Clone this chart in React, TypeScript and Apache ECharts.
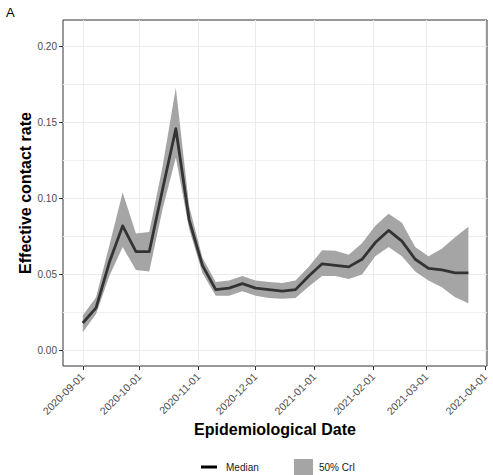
import React, { useEffect, useRef } from 'react';
import * as echarts from 'echarts';

// Weekly estimates of the effective contact rate
const dates = [
  '2020-09-01', '2020-09-08', '2020-09-15', '2020-09-22', '2020-09-29',
  '2020-10-06', '2020-10-13', '2020-10-20', '2020-10-27',
  '2020-11-03', '2020-11-10', '2020-11-17', '2020-11-24',
  '2020-12-01', '2020-12-08', '2020-12-15', '2020-12-22', '2020-12-29',
  '2021-01-05', '2021-01-12', '2021-01-19', '2021-01-26',
  '2021-02-02', '2021-02-09', '2021-02-16', '2021-02-23',
  '2021-03-02', '2021-03-09', '2021-03-16', '2021-03-23',
];

const median = [
  0.018, 0.028, 0.058, 0.082, 0.065,
  0.065, 0.106, 0.146, 0.086,
  0.056, 0.040, 0.041, 0.044,
  0.041, 0.040, 0.039, 0.040, 0.049,
  0.057, 0.056, 0.055, 0.060,
  0.071, 0.079, 0.072, 0.060,
  0.054, 0.053, 0.051, 0.051,
];

const lower = [
  0.012, 0.024, 0.049, 0.068, 0.053,
  0.052, 0.093, 0.127, 0.080,
  0.051, 0.036, 0.036, 0.039,
  0.036, 0.0345, 0.034, 0.0345, 0.042,
  0.049, 0.049, 0.047, 0.050,
  0.062, 0.068, 0.062, 0.052,
  0.046, 0.0415, 0.035, 0.031,
];

const upper = [
  0.023, 0.035, 0.069, 0.104, 0.077,
  0.078, 0.121, 0.173, 0.095,
  0.061, 0.045, 0.046, 0.049,
  0.046, 0.045, 0.0444, 0.046, 0.055,
  0.066, 0.0656, 0.063, 0.0705,
  0.082, 0.090, 0.084, 0.068,
  0.062, 0.067, 0.0745, 0.0815,
];

const xTicks = [
  '2020-09-01', '2020-10-01', '2020-11-01', '2020-12-01',
  '2021-01-01', '2021-02-01', '2021-03-01', '2021-04-01',
];
const yTicks = [0, 0.05, 0.1, 0.15, 0.2];
const yMinorTicks = [0.025, 0.075, 0.125, 0.175];

const DAY = 86400000;
const FONT = "'Liberation Sans', Arial, Helvetica, sans-serif";
const BAND = '#a5a5a5';

const toMs = (s: string) => {
  const [y, m, d] = s.split('-').map(Number);
  return Date.UTC(y, m - 1, d);
};
const pad2 = (n: number) => String(n).padStart(2, '0');
const fmtDate = (v: number) => {
  const d = new Date(v);
  return `${d.getUTCFullYear()}-${pad2(d.getUTCMonth() + 1)}-${pad2(d.getUTCDate())}`;
};

export default function App() {
  const ref = useRef<HTMLDivElement>(null);

  useEffect(() => {
    if (!ref.current) return;
    const chart = echarts.init(ref.current, undefined, { renderer: 'svg' });

    const xs = dates.map(toMs);
    const xMin = toMs(xTicks[0]) - 10.4 * DAY;
    const xMax = toMs(xTicks[xTicks.length - 1]) + 0.8 * DAY;
    const yMin = -0.0103;
    const yMax = 0.2176;

    const axisText = { fontFamily: FONT, fontSize: 10.5, color: '#4d4d4d' };
    const gridLine = { show: true, lineStyle: { color: '#ebebeb', width: 1 } };

    chart.setOption({
      animation: false,
      textStyle: { fontFamily: FONT },
      title: {
        text: 'A',
        left: 6,
        top: 6,
        padding: 0,
        textStyle: { fontFamily: FONT, fontSize: 13, fontWeight: 'normal', color: '#000' },
      },
      grid: {
        left: 63,
        top: 20,
        width: 424,
        height: 346,
        show: true,
        borderColor: '#333',
        borderWidth: 1,
        backgroundColor: 'transparent',
        containLabel: false,
      },
      xAxis: {
        type: 'value',
        min: xMin,
        max: xMax,
        name: 'Epidemiological Date',
        nameLocation: 'middle',
        nameGap: 55,
        nameMoveOverlap: false,
        nameTextStyle: { fontFamily: FONT, fontSize: 16, fontWeight: 'bold', color: '#000' },
        axisLine: { show: false, onZero: false },
        axisTick: {
          show: true,
          length: 4,
          customValues: xTicks.map(toMs),
          lineStyle: { color: '#333', width: 1 },
        },
        axisLabel: {
          ...axisText,
          rotate: 45,
          margin: 9,
          customValues: xTicks.map(toMs),
          formatter: (v: number) => fmtDate(v),
        },
        splitLine: gridLine,
      },
      yAxis: [
        {
          type: 'value',
          min: yMin,
          max: yMax,
          name: 'Effective contact rate',
          nameLocation: 'middle',
          nameGap: 30,
          nameMoveOverlap: false,
          nameTextStyle: { fontFamily: FONT, fontSize: 16, fontWeight: 'bold', color: '#000' },
          axisLine: { show: false },
          axisTick: {
            show: true,
            length: 4,
            customValues: yTicks,
            lineStyle: { color: '#333', width: 1 },
          },
          axisLabel: {
            fontFamily: FONT,
            fontSize: 10,
            color: '#4d4d4d',
            margin: 6,
            customValues: yTicks,
            formatter: (v: number) => v.toFixed(2),
          },
          splitLine: gridLine,
        },
        {
          // minor horizontal grid lines
          type: 'value',
          position: 'left',
          min: yMin,
          max: yMax,
          axisLine: { show: false },
          axisTick: { show: false, customValues: yMinorTicks },
          axisLabel: { show: false, customValues: yMinorTicks },
          splitLine: { show: true, lineStyle: { color: '#efefef', width: 1 } },
        },
      ],
      legend: [
        {
          data: [{ name: 'Median', icon: 'rect', itemStyle: { color: '#000' } }],
          left: 201,
          top: 462,
          padding: 0,
          itemWidth: 16,
          itemHeight: 3,
          selectedMode: false,
          textStyle: { fontFamily: FONT, fontSize: 10, color: '#1a1a1a', padding: [0, 0, 0, 4] },
        },
        {
          data: [{ name: '50% CrI', icon: 'rect', itemStyle: { color: BAND } }],
          left: 294,
          top: 459,
          padding: 0,
          itemWidth: 19,
          itemHeight: 17,
          selectedMode: false,
          textStyle: { fontFamily: FONT, fontSize: 10, color: '#1a1a1a', padding: [0, 0, 0, 1] },
        },
      ],
      series: [
        {
          // 50% credible-interval ribbon: upper bound forward, lower bound back
          name: '50% CrI',
          type: 'custom',
          silent: true,
          clip: true,
          color: BAND,
          encode: { x: 0, y: [1, 2] },
          data: xs.map((x, i) => [x, lower[i], upper[i]]),
          renderItem: (params: any, api: any) => {
            if (params.dataIndex !== 0) return null;
            const pts: number[][] = [];
            for (let i = 0; i < xs.length; i++) pts.push(api.coord([xs[i], upper[i]]));
            for (let i = xs.length - 1; i >= 0; i--) pts.push(api.coord([xs[i], lower[i]]));
            return {
              type: 'polygon',
              shape: { points: pts },
              style: { fill: BAND, stroke: 'none' },
            };
          },
          z: 1,
        },
        {
          name: 'Median',
          type: 'line',
          symbol: 'none',
          silent: true,
          color: '#333',
          lineStyle: { color: '#333', width: 2.8, join: 'round' },
          data: xs.map((x, i) => [x, median[i]]),
          z: 2,
        },
      ],
    });

    return () => chart.dispose();
  }, []);

  return (
    <div
      ref={ref}
      style={{ position: 'fixed', left: 0, top: 0, width: 493, height: 475, background: '#fff' }}
    />
  );
}
